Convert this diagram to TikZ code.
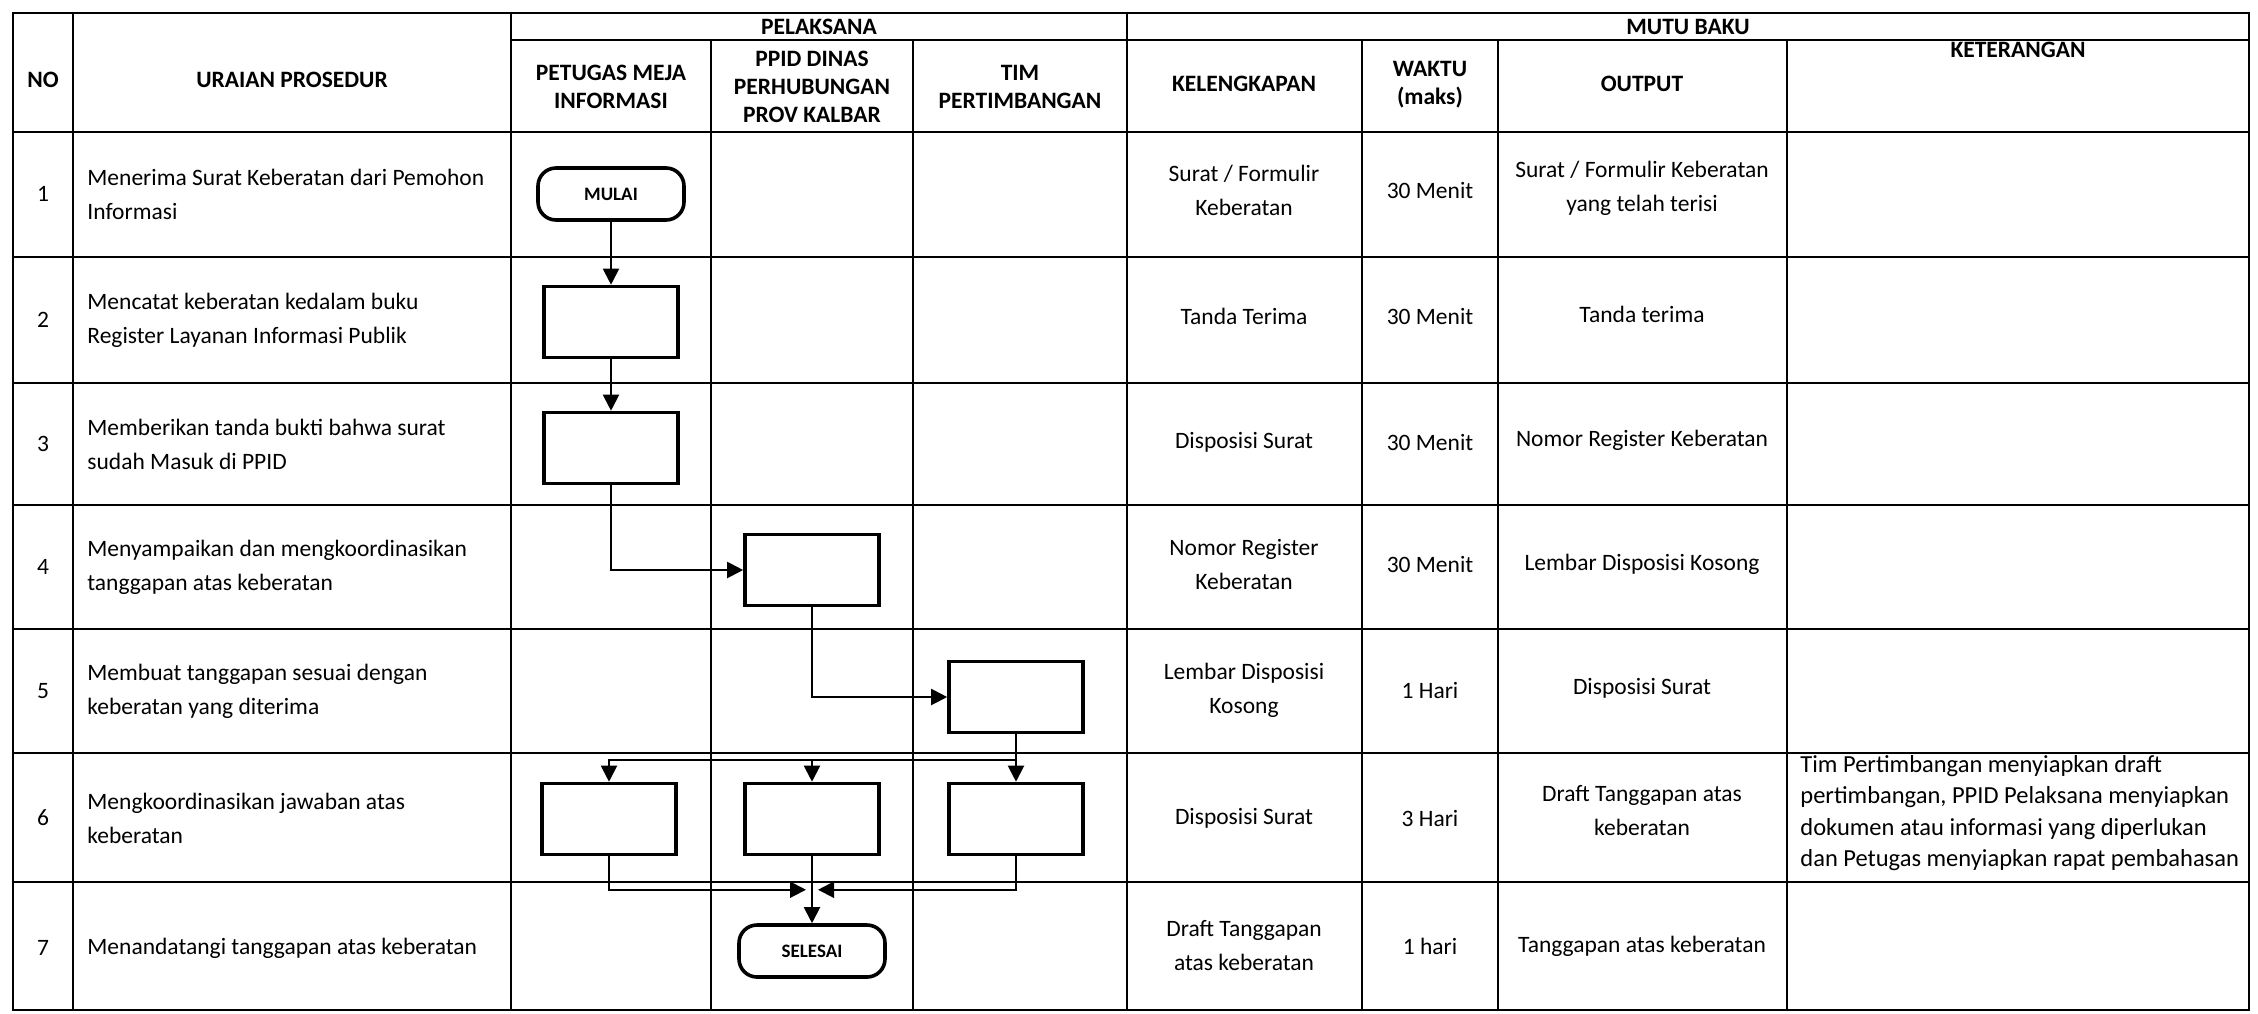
\documentclass[tikz,border=0pt]{standalone}
\usepackage{fontspec}
\setmainfont{Carlito}
\usetikzlibrary{arrows.meta, calc}

\begin{document}
\begin{tikzpicture}
	[x=0.5pt,y=-0.5pt,line cap=round,
	%Styles
	grid line/.style={line width=1.2pt},
	head text/.style={font=\fontsize{11.75}{14}\selectfont\bfseries,align=center,inner sep=0pt},
	body text/.style={font=\fontsize{11.75}{17}\selectfont,align=center,inner sep=0pt},
	left text/.style={body text,align=left,anchor=west},
	process/.style={draw,line width=1.8pt,minimum width=67pt,minimum height=35.5pt,inner sep=0pt},
	terminal/.style={draw,line width=1.8pt,rounded corners=9pt,minimum width=73pt,minimum height=26pt,inner sep=0pt,font=\fontsize{9.5}{9.5}\selectfont\bfseries},
	flow/.style={line width=1pt,-{Triangle[length=8pt,width=8pt]}}
	]
	
	\useasboundingbox (0,0) rectangle (2258,1013);
	
	%The table
	\draw[grid line] (13,13) rectangle (2249,1010);
	\draw[grid line] (511,40) -- (2249,40);
	\draw[grid line] (13,132) -- (2249,132);
	\draw[grid line] (13,257) -- (2249,257);
	\draw[grid line] (13,383) -- (2249,383);
	\draw[grid line] (13,505) -- (2249,505);
	\draw[grid line] (13,629) -- (2249,629);
	\draw[grid line] (13,753) -- (2249,753);
	\draw[grid line] (13,882) -- (2249,882);
	
	\draw[grid line] (73,13) -- (73,1010);
	\draw[grid line] (511,13) -- (511,1010);
	\draw[grid line] (711,40) -- (711,1010);
	\draw[grid line] (913,40) -- (913,1010);
	\draw[grid line] (1127,13) -- (1127,1010);
	\draw[grid line] (1362,40) -- (1362,1010);
	\draw[grid line] (1498,40) -- (1498,1010);
	\draw[grid line] (1787,40) -- (1787,1010);
	
	%Header
	\node[head text] (hno) at (43,80) {NO};
	\node[head text] (huraian) at (292,80) {URAIAN PROSEDUR};
	\node[head text] (hpelaksana) at (819,27) {PELAKSANA};
	\node[head text] (hmutu) at (1688,27) {MUTU BAKU};
	\node[head text] (hpetugas) at (611,87) {PETUGAS MEJA\\INFORMASI};
	\node[head text] (hppid) at (812,87) {PPID DINAS\\PERHUBUNGAN\\PROV KALBAR};
	\node[head text] (htim) at (1020,87) {TIM\\PERTIMBANGAN};
	\node[head text] (hkelengkapan) at (1244,84) {KELENGKAPAN};
	\node[head text] (hwaktu) at (1430,85) {WAKTU\\(maks)};
	\node[head text] (houtput) at (1642,84) {OUTPUT};
	\node[head text] (hketerangan) at (2018,50) {KETERANGAN};
	
	%Rows
	\node[body text] (no1) at (43,194) {1};
	\node[body text] (no2) at (43,320) {2};
	\node[body text] (no3) at (43,444) {3};
	\node[body text] (no4) at (43,567) {4};
	\node[body text] (no5) at (43,691) {5};
	\node[body text] (no6) at (43,818) {6};
	\node[body text] (no7) at (43,948) {7};
	
	\node[left text] (ur1) at (87,194) {Menerima Surat Keberatan dari Pemohon\\Informasi};
	\node[left text] (ur2) at (87,320) {Mencatat keberatan kedalam buku\\Register Layanan Informasi Publik};
	\node[left text] (ur3) at (87,444) {Memberikan tanda bukti bahwa surat\\sudah Masuk di PPID};
	\node[left text] (ur4) at (87,567) {Menyampaikan dan mengkoordinasikan\\tanggapan atas keberatan};
	\node[left text] (ur5) at (87,691) {Membuat tanggapan sesuai dengan\\keberatan yang diterima};
	\node[left text] (ur6) at (87,818) {Mengkoordinasikan jawaban atas\\keberatan};
	\node[left text] (ur7) at (87,948) {Menandatangi tanggapan atas keberatan};
	
	\node[body text] (kel1) at (1244,190) {Surat / Formulir\\Keberatan};
	\node[body text] (kel2) at (1244,316) {Tanda Terima};
	\node[body text] (kel3) at (1244,442) {Disposisi Surat};
	\node[body text] (kel4) at (1244,564) {Nomor Register\\Keberatan};
	\node[body text] (kel5) at (1244,690) {Lembar Disposisi\\Kosong};
	\node[body text] (kel6) at (1244,818) {Disposisi Surat};
	\node[body text] (kel7) at (1244,946) {Draft Tanggapan\\atas keberatan};
	
	\node[body text] (wkt1) at (1430,190) {30 Menit};
	\node[body text] (wkt2) at (1430,316) {30 Menit};
	\node[body text] (wkt3) at (1430,442) {30 Menit};
	\node[body text] (wkt4) at (1430,564) {30 Menit};
	\node[body text] (wkt5) at (1430,690) {1 Hari};
	\node[body text] (wkt6) at (1430,818) {3 Hari};
	\node[body text] (wkt7) at (1430,946) {1 hari};
	
	\node[body text] (out1) at (1642,188) {Surat / Formulir Keberatan\\yang telah terisi};
	\node[body text] (out2) at (1642,314) {Tanda terima};
	\node[body text] (out3) at (1642,440) {Nomor Register Keberatan};
	\node[body text] (out4) at (1642,564) {Lembar Disposisi Kosong};
	\node[body text] (out5) at (1642,688) {Disposisi Surat};
	\node[body text] (out6) at (1642,811) {Draft Tanggapan atas\\keberatan};
	\node[body text] (out7) at (1642,946) {Tanggapan atas keberatan};
	
	\node[left text,font=\fontsize{12.25}{15.8}\selectfont] (ket6) at (1800,813)
		{Tim Pertimbangan menyiapkan draft\\pertimbangan, PPID Pelaksana menyiapkan\\dokumen atau informasi yang diperlukan\\dan Petugas menyiapkan rapat pembahasan};
	
	%The flow
	\node[terminal] (mulai) at (611,194) {MULAI};
	\node[process] (catat) at (611,322) {};
	\node[process] (bukti) at (611,448) {};
	\node[process] (sampai) at (812,570) {};
	\node[process] (tanggap) at (1016,697) {};
	\node[process] (petugas6) at (609,819) {};
	\node[process] (ppid6) at (812,819) {};
	\node[process] (tim6) at (1016,819) {};
	\node[terminal] (selesai) at (812,951) {SELESAI};
	
	\draw[flow] (mulai) -- (catat);
	\draw[flow] (catat) -- (bukti);
	\draw[flow] (bukti.south) |- (sampai.west);
	\draw[flow] (sampai.south) |- (tanggap.west);
	\draw[flow] (tanggap) -- (tim6);
	
	\coordinate (cabang) at ($(tanggap.south)!0.55!(tim6.north)$);
	\draw[flow] (cabang) -| (petugas6.north);
	\draw[flow] (cabang) -| (ppid6.north);
	
	\draw[flow] (ppid6) -- (selesai);
	\coordinate (gabung) at ($(ppid6.south)!0.5!(selesai.north)$);
	\coordinate (gabungkiri) at ($(gabung)+(-6,0)$);
	\coordinate (gabungkanan) at ($(gabung)+(6,0)$);
	\draw[flow] (petugas6.south) |- (gabungkiri);
	\draw[flow] (tim6.south) |- (gabungkanan);
\end{tikzpicture}
\end{document}
